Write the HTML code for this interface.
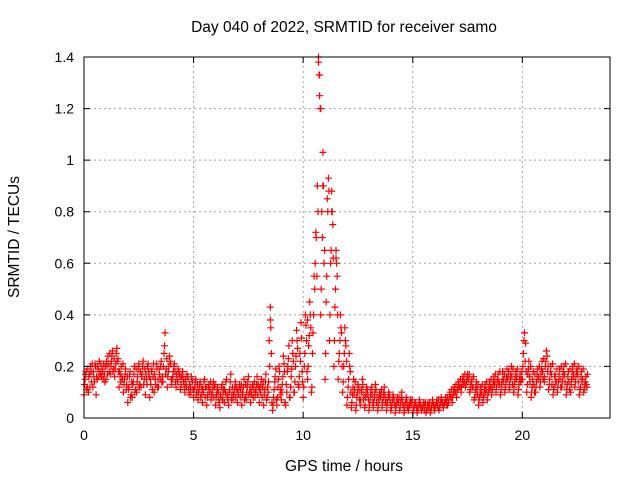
<!DOCTYPE html>
<html><head><meta charset="utf-8"><style>
html,body{margin:0;padding:0;background:#fff;}
svg{display:block;font-family:"Liberation Sans",sans-serif;}
</style></head><body>
<svg id="chart" width="640" height="480" viewBox="0 0 640 480">
<rect width="640" height="480" fill="#fff"/>
<g id="grid"></g>
<g id="points"></g>
<rect x="84" y="57" width="526" height="361" fill="none" stroke="#000" stroke-width="1"/>
<g id="ticks"></g>
<text x="344" y="32" font-size="15.5" text-anchor="middle">Day 040 of 2022, SRMTID for receiver samo</text>
<text x="344" y="471" font-size="15.5" text-anchor="middle">GPS time / hours</text>
<text x="19" y="237" font-size="15.5" text-anchor="middle" transform="rotate(-90 19 237)">SRMTID / TECUs</text>
</svg>
<script>
const xTicks=[0,5,10,15,20];
const xTickLabels=["0","5","10","15","20"];
const yTicks=[0,0.2,0.4,0.6,0.8,1,1.2,1.4];
const yTickLabels=["0","0.2","0.4","0.6","0.8","1","1.2","1.4"];
const binStep=0.2;
const tecBins=[
[.09,.15,.18,.12],[.10,.17,.20,.14],[.12,.16,.21,.09],[.15,.19,.22,.17],[.16,.18,.21,.14],
[.15,.20,.24,.18],[.17,.22,.26,.19],[.16,.21,.27,.23],[.12,.17,.20,.15],[.10,.15,.19,.13],
[.06,.12,.18,.09],[.08,.14,.20,.11],[.10,.16,.21,.13],[.12,.17,.22,.15],[.09,.15,.20,.18],
[.08,.13,.19,.16],[.10,.15,.21,.12],[.12,.17,.20,.14],[.14,.25,.33,.19],[.12,.18,.24,.21],
[.13,.16,.20,.18],[.12,.15,.19,.17],[.11,.16,.18,.14],[.10,.13,.17,.15],[.09,.12,.16,.14],
[.08,.12,.15,.10],[.07,.11,.14,.09],[.06,.10,.15,.12],[.05,.09,.13,.11],[.07,.10,.14,.12],
[.05,.09,.12,.07],[.04,.08,.13,.10],[.06,.10,.15,.08],[.05,.11,.17,.09],[.07,.10,.14,.12],
[.06,.09,.13,.11],[.05,.10,.15,.08],[.07,.12,.16,.10],[.06,.09,.13,.11],[.08,.11,.16,.13],
[.06,.10,.15,.12],[.05,.11,.17,.08],[.10,.30,.43,.25],[.03,.08,.14,.19],[.05,.12,.20,.09],
[.07,.13,.24,.18],[.05,.10,.20,.28],[.08,.16,.30,.22],[.10,.20,.34,.27],[.12,.25,.37,.18],
[.08,.20,.40,.30],[.15,.28,.45,.35],[.12,.33,.55,.60],[.70,.90,1.38,1.25],[.40,.80,1.03,.60],
[.15,.45,.85,.93],[.30,.60,.88,.75],[.20,.43,.65,.55],[.15,.25,.40,.33],[.10,.20,.35,.28],
[.05,.12,.25,.18],[.04,.09,.15,.11],[.03,.08,.13,.10],[.05,.10,.15,.07],[.04,.08,.12,.09],
[.03,.07,.11,.09],[.04,.08,.13,.06],[.03,.07,.10,.09],[.04,.08,.12,.06],[.03,.06,.10,.08],
[.03,.05,.09,.07],[.02,.05,.08,.06],[.03,.06,.10,.05],[.02,.05,.08,.04],[.03,.05,.07,.06],
[.02,.04,.06,.05],[.02,.04,.07,.05],[.03,.04,.06,.05],[.02,.03,.06,.04],[.02,.04,.07,.05],
[.03,.05,.07,.04],[.03,.05,.08,.06],[.04,.06,.08,.05],[.05,.07,.10,.08],[.06,.09,.12,.10],
[.08,.11,.14,.12],[.10,.13,.16,.14],[.12,.14,.17,.15],[.10,.13,.15,.12],[.07,.10,.14,.09],
[.05,.08,.12,.10],[.06,.09,.13,.11],[.07,.10,.14,.12],[.09,.12,.16,.14],[.10,.14,.17,.13],
[.09,.13,.18,.15],[.10,.14,.19,.16],[.11,.15,.20,.13],[.10,.14,.18,.16],[.09,.13,.17,.15],
[.15,.25,.33,.29],[.10,.17,.22,.14],[.08,.12,.18,.10],[.10,.14,.19,.16],[.12,.17,.22,.15],
[.14,.20,.26,.18],[.11,.15,.20,.13],[.09,.12,.17,.14],[.10,.14,.19,.12],[.12,.16,.20,.14],
[.09,.13,.18,.11],[.10,.15,.20,.17],[.12,.16,.19,.14],[.09,.12,.18,.15],[.10,.13,.16,.12]
];
const tecBins2=[
[.13,.17,.11,.19],[.16,.12,.18,.21],[.18,.14,.20,.16],[.20,.16,.18,.21],[.19,.15,.17,.20],
[.22,.17,.21,.25],[.20,.24,.18,.23],[.19,.25,.22,.18],[.18,.14,.16,.21],[.13,.17,.11,.16],
[.11,.16,.08,.14],[.13,.17,.10,.19],[.14,.19,.12,.18],[.16,.20,.13,.19],[.17,.13,.21,.16],
[.15,.18,.11,.21],[.17,.13,.19,.15],[.19,.15,.22,.16],[.20,.28,.17,.23],[.16,.20,.22,.15],
[.15,.18,.21,.14],[.17,.14,.18,.16],[.13,.17,.15,.12],[.15,.12,.16,.11],[.13,.10,.15,.11],
[.11,.14,.09,.13],[.10,.13,.08,.12],[.11,.14,.08,.12],[.08,.12,.10,.14],[.09,.12,.08,.13],
[.08,.11,.10,.06],[.09,.12,.07,.11],[.11,.14,.09,.07],[.10,.14,.07,.12],[.09,.12,.08,.11],
[.10,.12,.08,.13],[.09,.12,.07,.13],[.10,.14,.09,.12],[.10,.12,.08,.14],[.10,.13,.09,.12],
[.11,.13,.08,.14],[.09,.14,.07,.12],[.14,.20,.35,.06],[.05,.11,.16,.07],[.08,.15,.18,.11],
[.10,.16,.21,.06],[.13,.18,.23,.08],[.12,.19,.25,.10],[.14,.24,.30,.13],[.16,.22,.31,.14],
[.12,.25,.36,.18],[.20,.32,.40,.10],[.25,.40,.50,.72],[.55,.80,1.33,1.20],[.50,.70,.90,.65],
[.25,.55,.80,.88],[.40,.65,.80,.62],[.30,.50,.60,.40],[.22,.30,.35,.20],[.14,.25,.30,.22],
[.08,.15,.20,.10],[.06,.12,.09,.14],[.05,.10,.12,.07],[.07,.11,.13,.09],[.05,.10,.11,.07],
[.05,.09,.12,.06],[.06,.10,.11,.08],[.05,.09,.08,.11],[.06,.10,.09,.07],[.05,.08,.09,.06],
[.04,.07,.08,.05],[.04,.07,.06,.08],[.04,.08,.07,.05],[.03,.06,.07,.05],[.04,.06,.05,.07],
[.03,.05,.06,.04],[.03,.05,.06,.04],[.04,.05,.03,.06],[.03,.05,.04,.06],[.03,.05,.06,.04],
[.04,.06,.05,.07],[.04,.06,.07,.05],[.05,.07,.06,.08],[.06,.09,.08,.11],[.08,.11,.10,.13],
[.10,.13,.12,.15],[.12,.15,.13,.17],[.13,.16,.14,.17],[.11,.14,.12,.16],[.08,.12,.11,.13],
[.07,.10,.09,.13],[.08,.11,.10,.14],[.09,.12,.11,.15],[.11,.14,.13,.17],[.12,.15,.14,.18],
[.11,.15,.14,.17],[.12,.16,.15,.18],[.13,.17,.16,.19],[.12,.16,.15,.19],[.11,.15,.14,.18],
[.20,.30,.22,.18],[.13,.19,.16,.20],[.10,.15,.13,.17],[.12,.17,.15,.20],[.14,.19,.18,.23],
[.16,.22,.24,.20],[.13,.18,.17,.21],[.11,.16,.14,.19],[.12,.17,.15,.20],[.14,.18,.17,.21],
[.11,.16,.14,.19],[.13,.18,.16,.21],[.14,.18,.17,.20],[.11,.16,.14,.19],[.11,.14,.13,.17]
];
const extraHours=[10.7,10.75,10.8,10.9,11.3,11.5,10.2,8.5];
const extraValues=[1.40,1.33,1.20,0.90,0.80,0.62,0.38,0.38];

const X0=84,X1=610,Y0=418,Y1=57,XMAX=24,YMAX=1.4;
const xs=h=>X0+(h/XMAX)*(X1-X0);
const ys=v=>Y0-(v/YMAX)*(Y0-Y1);
const NS="http://www.w3.org/2000/svg";
const grid=document.getElementById('grid'),ticks=document.getElementById('ticks'),pts=document.getElementById('points');
function mk(tag,attrs,parent){const e=document.createElementNS(NS,tag);for(const k in attrs)e.setAttribute(k,attrs[k]);parent.appendChild(e);return e;}
xTicks.forEach((t,i)=>{
  const x=xs(t);
  if(t>0){const g=mk('line',{x1:x,x2:x,y1:Y0,y2:Y1,stroke:'#a0a0a0','stroke-dasharray':'2,3'},grid);
  
  }
  const tk=mk('path',{d:`M${x},${Y0}v-6M${x},${Y1}v6`,stroke:'#000'},ticks);
  
  
  const l=mk('text',{x:x,y:Y0+22,'font-size':14,'text-anchor':'middle'},ticks);l.textContent=xTickLabels[i];
  
  
});
yTicks.forEach((t,i)=>{
  const y=ys(t);
  if(t>0&&t<YMAX){const g=mk('line',{x1:X0,x2:X1,y1:y,y2:y,stroke:'#a0a0a0','stroke-dasharray':'2,3'},grid);
  
  }
  const tk=mk('path',{d:`M${X0},${y}h6M${X1},${y}h-6`,stroke:'#000'},ticks);
  
  
  const l=mk('text',{x:X0-10,y:y+5,'font-size':14,'text-anchor':'end'},ticks);l.textContent=yTickLabels[i];
  
  
});
let d='';
function plus(h,v){const x=xs(h),y=ys(v);d+=`M${(x-3.5).toFixed(1)},${y.toFixed(1)}h7M${x.toFixed(1)},${(y-3.5).toFixed(1)}v7`;}
tecBins.forEach((bin,i)=>bin.forEach((v,k)=>plus(i*binStep+k*binStep/4,v)));
tecBins2.forEach((bin,i)=>bin.forEach((v,k)=>plus(i*binStep+(k+0.5)*binStep/4,v)));
extraHours.forEach((h,i)=>plus(h,extraValues[i]));
const p=mk('path',{d:d,stroke:'#ff0000','stroke-width':1.2,fill:'none'},pts);


</script>
</body></html>
